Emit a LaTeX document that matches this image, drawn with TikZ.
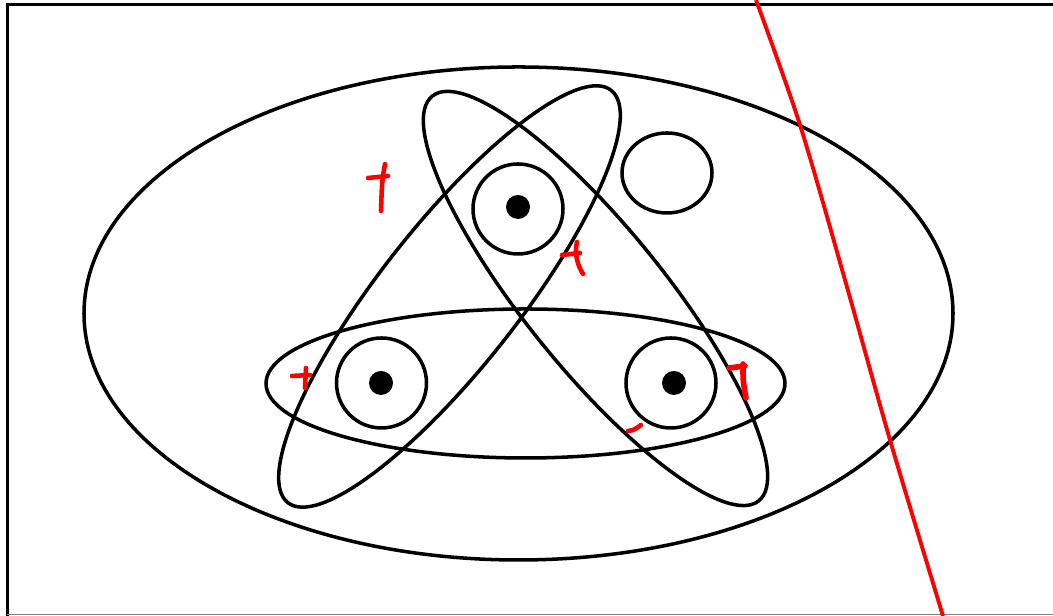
\documentclass[tikz,border=0pt]{standalone}
\usepackage{tikz}
\usetikzlibrary{calc}
\definecolor{penred}{RGB}{255,0,0}

\begin{document}
\begin{tikzpicture}[
  curve/.style={draw=black, line width=1pt},
  dotfill/.style={fill=black, draw=none},
  redpen/.style={draw=penred, line width=1.3pt, line cap=round},
  cutline/.style={draw=penred, line width=1.1pt}
]
\useasboundingbox (0,0) rectangle (10.53,6.16);

% Frame
\draw[line width=1.1pt] (0.075,0) -- (0.075,6.115) -- (10.53,6.115);
\draw[gray, line width=0.4pt] (0.075,0.015) -- (10.53,0.015);

% Outer set
\draw[curve] (5.185,3.025) ellipse [x radius=4.345, y radius=2.465];

% Three overlapping sets
\draw[curve] (5.255,2.325) ellipse [x radius=2.595, y radius=0.745];
\draw[curve, rotate around={51.9:(4.495,3.195)}] (4.495,3.195) ellipse [x radius=2.62, y radius=0.70];
\draw[curve, rotate around={128.9:(5.955,3.175)}] (5.955,3.175) ellipse [x radius=2.60, y radius=0.70];

% Points with rings
\node[circle, curve, minimum size=0.9cm, inner sep=0pt] (ringtop) at (5.18,4.07) {};
\node[circle, curve, minimum size=0.9cm, inner sep=0pt] (ringleft) at (3.815,2.33) {};
\node[circle, curve, minimum size=0.9cm, inner sep=0pt] (ringright) at (6.71,2.33) {};
\fill[dotfill] (5.18,4.09) circle (0.12);
\fill[dotfill] (3.81,2.33) circle (0.12);
\fill[dotfill] (6.74,2.33) circle (0.12);

% Lone set
\draw[curve] (6.67,4.43) ellipse [x radius=0.45, y radius=0.40];

% Signs
\draw[redpen] (3.68,4.38) -- (3.88,4.40);
\draw[redpen] (3.85,4.52) .. controls (3.82,4.35) .. (3.81,4.05);
\draw[redpen] (5.62,3.61) -- (5.80,3.63);
\draw[redpen] (5.77,3.74) .. controls (5.74,3.62) and (5.78,3.50) .. (5.83,3.42);
\draw[redpen] (2.92,2.40) -- (3.10,2.41);
\draw[redpen] (3.06,2.48) -- (3.05,2.28);
\draw[redpen] (6.28,1.85) .. controls (6.34,1.86) .. (6.41,1.91);
\draw[redpen, line width=1.6pt] (7.29,2.48) -- (7.45,2.50);
\draw[redpen, line width=1.6pt] (7.43,2.52) .. controls (7.43,2.35) .. (7.46,2.18);

% Cut
\draw[cutline] plot[smooth] coordinates {(7.56,6.16) (8.00,4.91) (8.45,3.36) (8.90,1.76) (9.43,0)};
\end{tikzpicture}
\end{document}
